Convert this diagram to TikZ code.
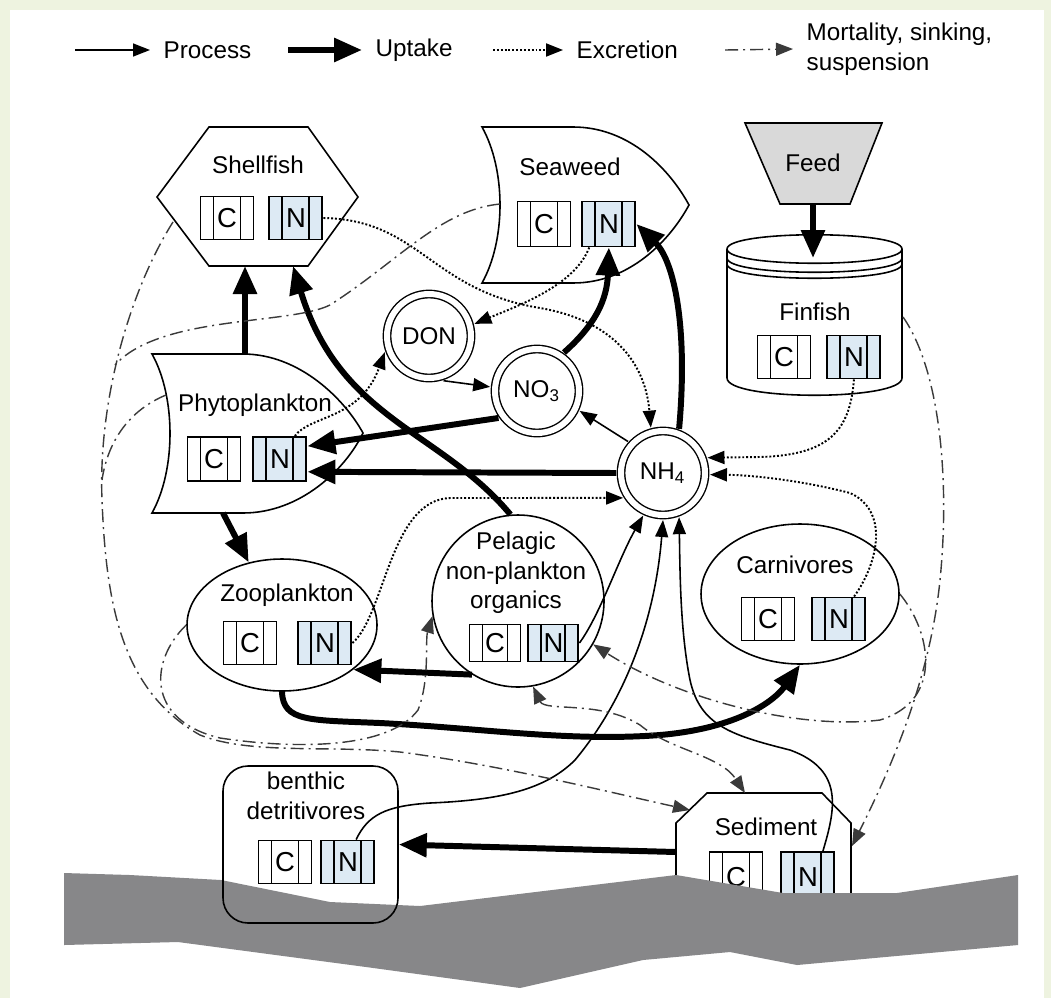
\documentclass[tikz,border=0pt]{standalone}
\usepackage{fontspec}
\setmainfont{Liberation Sans}
\usetikzlibrary{positioning,arrows.meta,calc,shapes.geometric}

\definecolor{nfill}{HTML}{DDEAF4}
\definecolor{ground}{HTML}{878789}
\definecolor{feedgray}{HTML}{D9D9D9}
\definecolor{mortgray}{HTML}{3A3A3A}
\definecolor{edgegreen}{HTML}{EEF3E0}

\begin{document}
\begin{tikzpicture}[
    x=0.1mm, y=-0.1mm,
    font=\fontsize{6.9pt}{8.4pt}\selectfont,
    outline/.style={draw, line width=0.45pt, fill=white},
    cbox/.style={draw, line width=0.55pt, fill=white, inner sep=0pt,
                 minimum width=5.3mm, minimum height=4.3mm,
                 font=\fontsize{7.8pt}{8pt}\selectfont,
                 path picture={\draw[line width=0.55pt]
                   ([xshift=1.3mm]path picture bounding box.south west) --
                   ([xshift=1.3mm]path picture bounding box.north west)
                   ([xshift=-1.3mm]path picture bounding box.south east) --
                   ([xshift=-1.3mm]path picture bounding box.north east);}},
    nbox/.style={cbox, fill=nfill},
    pool/.style={circle, draw, line width=0.4pt, double, double distance=0.6mm,
                 fill=white, minimum size=8.4mm, inner sep=0pt, outer sep=0.5mm},
    lbl/.style={inner sep=0pt},
    legtxt/.style={anchor=west, inner sep=1.3mm, align=left},
    proc/.style={-{Triangle[length=1.7mm, width=1.3mm]}, line width=0.45pt},
    upt/.style={-{Triangle[length=2.8mm, width=2.3mm]}, line width=1.7pt},
    excr/.style={-{Triangle[length=1.7mm, width=1.3mm]}, line width=0.55pt,
                 dash pattern=on 0.55pt off 0.55pt},
    mort/.style={-{Triangle[length=1.7mm, width=1.3mm]}, line width=0.4pt, mortgray,
                 dash pattern=on 1.3mm off 0.5mm on 0.2mm off 0.5mm},
    mortj/.style={mort, -},
  ]
  \useasboundingbox (0,0) rectangle (1051,998);
  \fill[edgegreen] (0,0) rectangle (1051,998);
  \fill[white] (10,10) rectangle (1044,998);

  % --- legend ---
  \coordinate (lgP0) at (75,50);
  \node[legtxt] (lgP) at (150,50) {Process};
  \draw[proc] (lgP0) -- (lgP.west);
  \coordinate (lgU0) at (288,50);
  \node[legtxt] (lgU) at (362,50) {Uptake};
  \draw[upt] (lgU0) -- (lgU.west);
  \coordinate (lgE0) at (493,50);
  \node[legtxt] (lgE) at (563,50) {Excretion};
  \draw[excr] (lgE0) -- (lgE.west);
  \coordinate (lgM0) at (725,50);
  \node[legtxt] (lgM) at (793,49) {Mortality, sinking,\\suspension};
  \draw[mort] (lgM0) -- (lgM.west);

  % --- shellfish ---
  \draw[outline] (157,197) -- (209,127) -- (308,127) -- (358,197) -- (308,266) -- (209,266) -- cycle;
  \node[lbl] (shL) at (258,165) {Shellfish};
  \node[cbox] (shC) at (227,218) {C};
  \node[nbox, right=1.4mm of shC] (shN) {N};
  \coordinate (shB1) at (245,266);
  \coordinate (shB2) at (293,266);
  \coordinate (shW) at (173,222);

  % --- seaweed ---
  \draw[outline] (482,127) -- (573,127) .. controls (630,127) and (670,170) .. (689,205)
    .. controls (670,240) and (630,283) .. (573,283) -- (482,283)
    .. controls (506,240) and (506,170) .. cycle;
  \node[lbl] (swL) at (570,167) {Seaweed};
  \node[cbox, minimum height=4.5mm] (swC) at (544,224) {C};
  \node[nbox, minimum height=4.5mm, right=1mm of swC] (swN) {N};
  \coordinate (swW) at (500,204);

  % --- feed and finfish ---
  \draw[outline, fill=feedgray] (745,123) -- (882,123) -- (850,204) -- (780,204) -- cycle;
  \node[lbl] (feedL) at (813,163) {Feed};
  \coordinate (feedB) at (813,204);
  \draw[outline] (727,249) -- (727,378) .. controls (727,401) and (902,401) .. (902,378) -- (902,249)
    .. controls (902,230) and (727,230) .. cycle;
  \draw[line width=0.45pt] (727,249) .. controls (727,268) and (902,268) .. (902,249);
  \draw[line width=0.45pt] (727,258) .. controls (727,277) and (902,277) .. (902,258);
  \draw[line width=0.45pt] (727,264) .. controls (727,283) and (902,283) .. (902,264);
  \node[lbl] (ffL) at (815,312) {Finfish};
  \node[cbox] (ffC) at (784,357) {C};
  \node[nbox, right=1.5mm of ffC] (ffN) {N};
  \coordinate (ffT) at (813,258);
  \coordinate (ffR) at (903,317);

  % --- nutrient pools ---
  \node[pool] (don) at (429,336) {DON};
  \node[pool] (no3) at (537,391) {NO\textsubscript{3}};
  \node[pool] (nh4) at (663,473) {NH\textsubscript{4}};

  % --- phytoplankton ---
  \draw[outline] (152,354) -- (243,354) .. controls (300,354) and (345,400) .. (363,433)
    .. controls (345,470) and (300,513) .. (243,513) -- (152,513)
    .. controls (176,470) and (176,397) .. cycle;
  \node[lbl] (phL) at (255,405) {Phytoplankton};
  \node[cbox, minimum height=4.4mm] (phC) at (214,459) {C};
  \node[nbox, minimum height=4.4mm, right=1.1mm of phC] (phN) {N};
  \coordinate (phT) at (245,354);
  \coordinate (phB) at (223,513);
  \coordinate (phW) at (166,395);

  % --- zooplankton, pelagic organics, carnivores ---
  \node[outline, ellipse, minimum width=19mm, minimum height=13.2mm, inner sep=0pt] (zoo) at (282,625) {};
  \node[lbl] (zpL) at (287,595) {Zooplankton};
  \node[cbox] (zpC) at (250,643) {C};
  \node[nbox, right=2mm of zpC] (zpN) {N};

  \node[outline, circle, minimum size=17.2mm, inner sep=0pt] (po) at (518,601) {};
  \node[lbl, align=center] (poL) at (516,573) {Pelagic\\non-plankton\\organics};
  \node[cbox, minimum width=5.1mm, minimum height=3.7mm] (poC) at (495,643) {C};
  \node[nbox, minimum width=5mm, minimum height=3.7mm, right=0.6mm of poC] (poN) {N};

  \node[outline, ellipse, minimum width=19.8mm, minimum height=14mm, inner sep=0pt] (cv) at (800,594) {};
  \node[lbl] (cvL) at (795,565) {Carnivores};
  \node[cbox] (cvC) at (768,619) {C};
  \node[nbox, right=1.6mm of cvC] (cvN) {N};

  % --- sediment and sea floor ---
  \draw[outline] (676,905) -- (676,823) -- (707,793) -- (822,793) -- (851,823) -- (851,905) -- cycle;
  \node[lbl] (sdL) at (766,827) {Sediment};
  \node[cbox, minimum height=5mm] (sdC) at (736,877) {C};
  \node[nbox, minimum height=5mm, right=1.7mm of sdC] (sdN) {N};
  \coordinate (sdT) at (745,793);
  \coordinate (sdLft) at (676,852);
  \coordinate (sdLc) at (690,810);
  \coordinate (sdR) at (852,846);

  \fill[ground] (64,873) -- (130,875) -- (221,880) -- (330,902) -- (420,906) -- (676,875)
    -- (783,893) -- (897,893) -- (1018,875) -- (1018,945) -- (797,965) -- (730,952)
    -- (643,960) -- (520,988) -- (366,967) -- (178,942) -- (64,945) -- cycle;

  \node[draw, line width=0.45pt, rounded corners=2.5mm, minimum width=17.5mm,
        minimum height=15.7mm] (bd) at (310.5,844.5) {};
  \node[lbl, align=center] (bdL) at (306,796) {benthic\\detritivores};
  \node[cbox] (bdC) at (285,862) {C};
  \node[nbox, right=0.8mm of bdC] (bdN) {N};

  % --- uptake ---
  \draw[upt] (feedB) -- (ffT);
  \draw[upt] (phT) -- (shB1);
  \draw[upt] (po.95) .. controls (440,430) and (340,420) .. (shB2);
  \draw[upt] (no3.55) .. controls (595,325) and (607,300) .. (swN.south);
  \draw[upt] (nh4.70) .. controls (688,330) and (675,262) .. (swN.east);
  \draw[upt] (no3.215) -- (phN.25);
  \draw[upt] (nh4.west) -- (phN.-25);
  \draw[upt] (phB) -- (zoo.118);
  \draw[upt] (po.238) -- (zoo.-32);
  \draw[upt] (zoo.south) .. controls (283,722) and (310,720) .. (380,723)
    .. controls (480,728) and (570,742) .. (660,735)
    .. controls (740,728) and (775,700) .. (cv.south);
  \draw[upt] (sdLft) -- (bd.east);

  % --- processes ---
  \draw[proc] (don.-72) -- (no3.175);
  \draw[proc] (nh4.138) -- (no3.-25);
  \draw[proc] (poN.east) .. controls (600,615) and (618,560) .. (nh4.245);
  \draw[proc] (bdN.70) .. controls (368,815) and (385,806) .. (430,803)
    .. controls (500,800) and (545,790) .. (575,760)
    .. controls (625,700) and (655,620) .. (nh4.270);
  \draw[proc] (sdN.60) .. controls (835,810) and (845,770) .. (790,750)
    .. controls (730,735) and (700,725) .. (690,680)
    .. controls (680,630) and (680,570) .. (nh4.290);

  % --- excretion ---
  \draw[excr] (shN.east) .. controls (420,220) and (430,290) .. (540,308)
    .. controls (610,320) and (645,360) .. (nh4.105);
  \draw[excr] (swN.-130) .. controls (575,285) and (520,305) .. (don.15);
  \draw[excr] (phN.57) .. controls (310,415) and (360,420) .. (don.200);
  \draw[excr] (zpN.east) .. controls (385,615) and (390,500) .. (450,498) -- (nh4.212);
  \draw[excr] (ffN.south) .. controls (850,430) and (830,455) .. (760,457) -- (nh4.19);
  \draw[excr] (cvN.56) .. controls (880,560) and (888,510) .. (850,493)
    .. controls (800,480) and (750,475) .. (nh4.-2);

  % --- mortality, sinking, suspension ---
  \draw[mort] (shW) .. controls (130,290) and (98,400) .. (102,500)
    .. controls (106,600) and (120,690) .. (200,735)
    .. controls (250,755) and (330,745) .. (400,752)
    .. controls (500,765) and (600,790) .. (sdLc);
  \draw[mortj] (swW) .. controls (440,210) and (400,260) .. (330,305)
    .. controls (290,325) and (160,315) .. (115,365);
  \draw[mortj] (phW) .. controls (130,410) and (108,440) .. (102,480);
  \draw[mort] (zoo.west) .. controls (150,660) and (145,720) .. (220,738)
    .. controls (300,750) and (390,748) .. (418,710)
    .. controls (430,680) and (425,640) .. (po.190);
  \draw[mort] (ffR) .. controls (940,370) and (950,480) .. (940,580)
    .. controls (930,680) and (890,770) .. (sdR);
  \draw[mort] (cv.east) .. controls (930,630) and (945,700) .. (880,720)
    .. controls (800,730) and (680,700) .. (po.-30);
  \draw[mort, {Triangle[length=1.7mm, width=1.3mm]}-{Triangle[length=1.7mm, width=1.3mm]}]
    (po.-80) .. controls (545,712) and (600,700) .. (640,725)
    .. controls (670,750) and (720,755) .. (sdT);
\end{tikzpicture}
\end{document}
